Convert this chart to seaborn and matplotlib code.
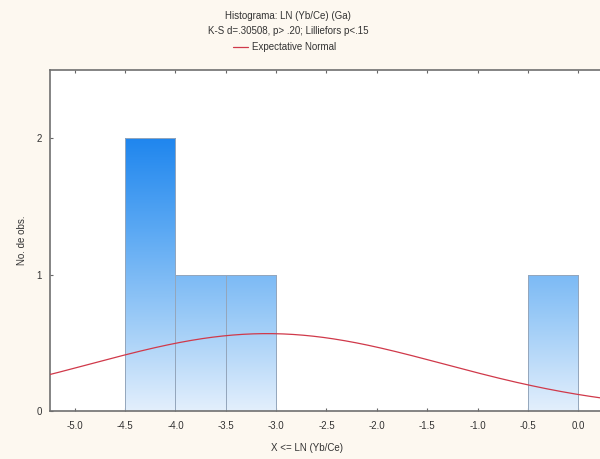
import numpy as np
import pandas as pd
import matplotlib
matplotlib.use("Agg")
import matplotlib.pyplot as plt
from matplotlib.colors import LinearSegmentedColormap
from matplotlib.lines import Line2D
import seaborn as sns

# Observations of LN(Yb/Ce) for group Ga
observations = [-4.40, -4.10, -3.70, -3.20, -0.05]
bin_edges = [-5.0, -4.5, -4.0, -3.5, -3.0, -2.5, -2.0, -1.5, -1.0, -0.5, 0.0]
x_ticks = [-5.0, -4.5, -4.0, -3.5, -3.0, -2.5, -2.0, -1.5, -1.0, -0.5, 0.0]
x_tick_labels = ["-5.0", "-4.5", "-4.0", "-3.5", "-3.0", "-2.5", "-2.0", "-1.5", "-1.0", "-0.5", "0.0"]
y_ticks = [0, 1, 2]

title_line1 = "Histograma: LN (Yb/Ce) (Ga)"
title_line2 = "K-S d=.30508, p> .20; Lilliefors p<.15"
legend_label = "Expectative Normal"
x_label = "X <= LN (Yb/Ce)"
y_label = "No. de obs."

sns.set_theme(style="white")
plt.rcParams["font.family"] = ["Liberation Sans", "DejaVu Sans"]
plt.rcParams["axes.unicode_minus"] = False

fig = plt.figure(figsize=(6.0, 4.59), dpi=100)
fig.patch.set_facecolor("#fdf8f0")
ax = fig.add_axes([50 / 600, 48 / 459, 554 / 600, 341 / 459])
ax.set_facecolor("white")

df = pd.DataFrame({"x": observations})
sns.histplot(data=df, x="x", bins=bin_edges, stat="count", ax=ax,
             color="#7bb8f2", edgecolor="#94a6bc", linewidth=0.7, alpha=1.0)

xlim = (-5.245, 0.256)
ylim = (0, 2.5)

# vertical blue gradient shared by all bars, clipped to each bar outline
cmap = LinearSegmentedColormap.from_list(
    "bars", ["#e3effc", "#9ccbf7", "#5aa8f3", "#1f86ee"])
grad = np.linspace(0, 1, 256).reshape(-1, 1)
for patch in list(ax.patches):
    if patch.get_height() <= 0:
        patch.set_visible(False)
        continue
    patch.set_facecolor("none")
    img = ax.imshow(grad, cmap=cmap, origin="lower", aspect="auto",
                    extent=(xlim[0], xlim[1], 0, 2.0), zorder=patch.get_zorder() - 0.1)
    img.set_clip_path(patch)

# expected normal curve scaled to counts
obs = np.asarray(observations)
mu, sd = obs.mean(), obs.std(ddof=1)
bw = bin_edges[1] - bin_edges[0]
xs = np.linspace(xlim[0] - 0.1, xlim[1] + 0.1, 400)
ys = len(obs) * bw * np.exp(-0.5 * ((xs - mu) / sd) ** 2) / (sd * np.sqrt(2 * np.pi))
sns.lineplot(x=xs, y=ys, ax=ax, color="#d0394a", linewidth=0.9, zorder=5)

ax.set_xlim(*xlim)
ax.set_ylim(*ylim)
ax.set_xticks(x_ticks)
ax.set_xticklabels(x_tick_labels)
ax.set_yticks(y_ticks)
ax.tick_params(axis="both", direction="in", length=2.5, width=0.8, color="#666666",
               labelsize=7, labelcolor="#333333", pad=7)
ax.tick_params(axis="x", top=True, bottom=True)
ax.tick_params(axis="y", left=True, pad=6)
for side in ["left", "bottom", "top", "right"]:
    ax.spines[side].set_color("#707070")
    ax.spines[side].set_linewidth(1.2)

ax.set_xlabel(x_label, fontsize=7, color="#333333")
ax.set_ylabel(y_label, fontsize=7, color="#333333")
ax.xaxis.set_label_coords((307 - 50) / 554, -0.095)
ax.yaxis.set_label_coords(-0.042, 0.5)

cx = 288 / 600
fig.text(cx, 1 - 16 / 459, title_line1, ha="center", va="center", fontsize=7, color="#333333")
fig.text(cx, 1 - 31 / 459, title_line2, ha="center", va="center", fontsize=7, color="#333333")
fig.add_artist(Line2D([233 / 600, 248 / 600], [1 - 47 / 459, 1 - 47 / 459],
                      color="#d0394a", linewidth=0.9, transform=fig.transFigure))
fig.text(252 / 600, 1 - 47 / 459, legend_label, ha="left", va="center", fontsize=7, color="#333333")

fig.savefig("out.png", dpi=100, facecolor=fig.get_facecolor())
